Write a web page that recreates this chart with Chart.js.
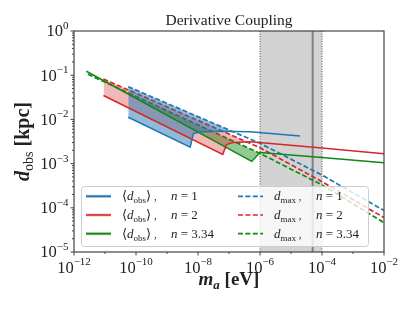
<!DOCTYPE html>
<html>
<head>
<meta charset="utf-8">
<script src="https://cdn.jsdelivr.net/npm/chart.js@4.4.1/dist/chart.umd.min.js"></script>
<style>
  html, body { margin: 0; padding: 0; background: #fff; }
</style>
</head>
<body>
<canvas id="chart" width="415" height="311"></canvas>
<script>
// Derivative coupling: observable distance vs axion mass (log-log)

// <d_obs> curves (solid) and d_max curves (dashed), masses in eV, distances in kpc
const obsMassN1 = [5.6e-11, 5.6e-9, 7.1e-9, 1.15e-8, 5e-8, 4.8e-7, 1.95e-5];
const obsDistN1 = [0.0112, 0.00234, 0.00479, 0.00519, 0.00537, 0.00525, 0.00422];

const obsMassN2 = [8.9e-12, 6.3e-8, 8.3e-8, 1.38e-7, 5e-7, 1e-4, 1e-2];
const obsDistN2 = [0.0347, 0.00162, 0.00269, 0.00302, 0.00313, 0.00226, 0.00166];

const obsMassN3 = [2.5e-12, 5.4e-7, 1e-6, 1e-4, 1e-2];
const obsDistN3 = [0.123, 0.00112, 0.00178, 0.00138, 0.00105];

const maxMassN1 = [5.6e-11, 1e-6, 1e-4, 1e-2];
const maxDistN1 = [0.055, 0.00288, 5.5e-4, 8.7e-5];

const maxMassN2 = [8.9e-12, 1e-6, 1e-4, 1e-2];
const maxDistN2 = [0.082, 0.00229, 3.9e-4, 6.0e-5];

const maxMassN3 = [2.8e-12, 1e-6, 1e-4, 1e-2];
const maxDistN3 = [0.105, 0.0017, 3.3e-4, 4.6e-5];

// shaded mass window and marker line
const bandEdges = [1e-6, 1e-4];
const markerMass = [5e-5];

// tick labels (exponents of 10)
const xTickExps = [-12, -10, -8, -6, -4, -2];
const xMinorExps = [-11, -9, -7, -5, -3];
const yTickExps = [0, -1, -2, -3, -4, -5];

const legendN = ['1', '2', '3.34'];

const FONT = '"Liberation Serif", "DejaVu Serif", serif';
const BLUE = '#1f77b4', RED = '#d62728', GREEN = '#118811';
const fills = ['rgba(31,119,180,0.5)', 'rgba(214,39,40,0.33)', 'rgba(17,136,17,0.45)'];
const colors = [BLUE, RED, GREEN];
const DASH = [5, 2.4];

function pts(xs, ys) {
  return xs.map((x, i) => ({ x: x, y: ys[i] }));
}

function solid(xs, ys, color) {
  return { data: pts(xs, ys), borderColor: color, borderWidth: 1.5, fill: false };
}

// dashed line fills down to its solid partner only where it lies above it
function dashed(xs, ys, color, target, fillColor) {
  return {
    data: pts(xs, ys), borderColor: color, borderWidth: 1.7, borderDash: DASH,
    fill: { target: target, above: fillColor, below: 'rgba(0,0,0,0)' }
  };
}

const datasets = [
  solid(obsMassN1, obsDistN1, BLUE),      // 0
  solid(obsMassN2, obsDistN2, RED),       // 1
  solid(obsMassN3, obsDistN3, GREEN),     // 2
  dashed(maxMassN1, maxDistN1, BLUE, 0, fills[0]),
  dashed(maxMassN2, maxDistN2, RED, 1, fills[1]),
  dashed(maxMassN3, maxDistN3, GREEN, 2, fills[2])
];

function drawParts(ctx, x, y, parts, align) {
  let total = 0;
  parts.forEach(p => { ctx.font = p[1]; total += ctx.measureText(p[0]).width; });
  let cx = align === 'center' ? x - total / 2 : align === 'right' ? x - total : x;
  parts.forEach(p => {
    ctx.font = p[1];
    ctx.fillText(p[0], cx, y + (p[2] || 0));
    cx += ctx.measureText(p[0]).width;
  });
}

function supLabel(exp) {
  return String(exp).replace('-', '\u2212');
}

const bandPlugin = {
  id: 'band',
  beforeDatasetsDraw(chart) {
    const { ctx, chartArea: a, scales: { x } } = chart;
    const x0 = x.getPixelForValue(bandEdges[0]);
    const x1 = x.getPixelForValue(bandEdges[1]);
    ctx.save();
    ctx.fillStyle = '#d3d3d3';
    ctx.fillRect(x0, a.top, x1 - x0, a.bottom - a.top);
    ctx.strokeStyle = '#555';
    ctx.lineWidth = 1;
    ctx.setLineDash([1, 1.5]);
    [x0, x1].forEach(px => {
      ctx.beginPath();
      ctx.moveTo(px, a.top);
      ctx.lineTo(px, a.bottom);
      ctx.stroke();
    });
    ctx.setLineDash([]);
    const xm = x.getPixelForValue(markerMass[0]);
    ctx.strokeStyle = '#808080';
    ctx.lineWidth = 2;
    ctx.beginPath();
    ctx.moveTo(xm, a.top);
    ctx.lineTo(xm, a.bottom);
    ctx.stroke();
    ctx.restore();
  }
};

const framePlugin = {
  id: 'frame',
  afterDraw(chart) {
    const { ctx, chartArea: a, scales: { x, y } } = chart;
    ctx.save();

    // legend (semi transparent box over the data)
    const lx = 81, ly = 186, lw = 287, lh = 60;
    ctx.fillStyle = 'rgba(255,255,255,0.8)';
    ctx.strokeStyle = '#cccccc';
    ctx.lineWidth = 1;
    ctx.beginPath();
    ctx.roundRect(lx + 0.5, ly + 0.5, lw, lh, 3);
    ctx.fill();
    ctx.stroke();

    const rowY = [196.3, 215.0, 233.7];
    ctx.fillStyle = '#222';
    ctx.textBaseline = 'alphabetic';
    ctx.textAlign = 'left';
    rowY.forEach((ry, i) => {
      ctx.save();
      ctx.strokeStyle = fills[i];
      ctx.lineWidth = 3;
      ctx.beginPath(); ctx.moveTo(86, ry); ctx.lineTo(111, ry); ctx.stroke();
      ctx.strokeStyle = colors[i];
      ctx.lineWidth = 1.5;
      ctx.beginPath(); ctx.moveTo(86, ry); ctx.lineTo(111, ry); ctx.stroke();
      ctx.lineWidth = 1.7;
      ctx.setLineDash(DASH);
      ctx.beginPath(); ctx.moveTo(238, ry); ctx.lineTo(263, ry); ctx.stroke();
      ctx.restore();

      const base = ry + 4;
      drawParts(ctx, 122, base, [
        ['\u27E8', '13px ' + FONT], ['d', 'italic 13px ' + FONT], ['obs', '9px ' + FONT, 3],
        ['\u27E9', '13px ' + FONT], [' ,', '11px ' + FONT]
      ], 'left');
      drawParts(ctx, 171, base, [['n', 'italic 13px ' + FONT], [' = ' + legendN[i], '13px ' + FONT]], 'left');
      drawParts(ctx, 274, base, [
        ['d', 'italic 13px ' + FONT], ['max', '9px ' + FONT, 3], [' ,', '11px ' + FONT]
      ], 'left');
      drawParts(ctx, 316, base, [['n', 'italic 13px ' + FONT], [' = ' + legendN[i], '13px ' + FONT]], 'left');
    });

    // spines
    ctx.strokeStyle = '#444';
    ctx.lineWidth = 1.2;
    ctx.strokeRect(a.left, a.top, a.right - a.left, a.bottom - a.top);

    // x ticks
    ctx.lineWidth = 1;
    ctx.beginPath();
    xTickExps.forEach(e => {
      const px = x.getPixelForValue(Math.pow(10, e));
      ctx.moveTo(px, a.bottom); ctx.lineTo(px, a.bottom + 3.5);
    });
    xMinorExps.forEach(e => {
      const px = x.getPixelForValue(Math.pow(10, e));
      ctx.moveTo(px, a.bottom); ctx.lineTo(px, a.bottom + 2);
    });
    // y ticks
    yTickExps.forEach(e => {
      const py = y.getPixelForValue(Math.pow(10, e));
      ctx.moveTo(a.left, py); ctx.lineTo(a.left - 3.5, py);
      if (e < 0) {
        for (let k = 2; k <= 9; k++) {
          const pm = y.getPixelForValue(k * Math.pow(10, e));
          ctx.moveTo(a.left, pm); ctx.lineTo(a.left - 2, pm);
        }
      }
    });
    ctx.stroke();

    // tick labels
    ctx.fillStyle = '#222';
    xTickExps.forEach(e => {
      const px = x.getPixelForValue(Math.pow(10, e));
      drawParts(ctx, px, 272.5, [['10', '16.5px ' + FONT], [supLabel(e), '11px ' + FONT, -7.4]], 'center');
    });
    yTickExps.forEach(e => {
      const py = y.getPixelForValue(Math.pow(10, e));
      drawParts(ctx, 68.5, py + 5.3, [['10', '16.5px ' + FONT], [supLabel(e), '11px ' + FONT, -7.4]], 'right');
    });

    // axis titles
    drawParts(ctx, (a.left + a.right) / 2, 285, [
      ['m', 'italic bold 19px ' + FONT], ['a', 'italic bold 13px ' + FONT, 3.5], [' [eV]', 'bold 19px ' + FONT]
    ], 'center');
    ctx.save();
    ctx.translate(29, (a.top + a.bottom) / 2);
    ctx.rotate(-Math.PI / 2);
    drawParts(ctx, 0, 0, [
      ['d', 'italic bold 20px ' + FONT], ['obs', '14px ' + FONT, 4], [' [kpc]', 'bold 20px ' + FONT]
    ], 'center');
    ctx.restore();

    // title
    drawParts(ctx, (a.left + a.right) / 2, 25.3, [['Derivative Coupling', '15.5px ' + FONT]], 'center');

    ctx.restore();
  }
};

new Chart(document.getElementById('chart').getContext('2d'), {
  type: 'line',
  data: { datasets: datasets },
  options: {
    responsive: false,
    animation: false,
    layout: { padding: { left: 74, right: 31, top: 31, bottom: 59 } },
    elements: { point: { radius: 0, hoverRadius: 0 }, line: { tension: 0 } },
    scales: {
      x: { type: 'logarithmic', min: 1e-12, max: 1e-2, display: false },
      y: { type: 'logarithmic', min: 1e-5, max: 1, display: false }
    },
    plugins: {
      legend: { display: false },
      tooltip: { enabled: false },
      title: { display: false }
    }
  },
  plugins: [bandPlugin, framePlugin]
});
</script>
</body>
</html>
